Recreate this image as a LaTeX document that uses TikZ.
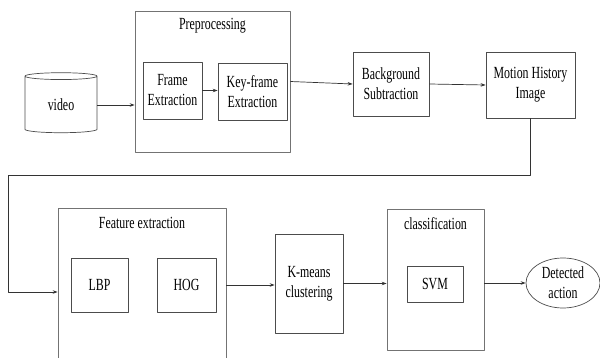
\documentclass[tikz,border=0pt]{standalone}
\usepackage{fontspec}
\setmainfont[FakeStretch=0.7]{Liberation Serif}
\usetikzlibrary{arrows.meta,shapes.geometric}
\tikzset{
  box/.style={draw=black!70, line width=.7pt, align=center, inner sep=1pt},
  grp/.style={draw=black!55, line width=.7pt, inner sep=0pt},
  link/.style={->, draw=black!80, line width=.7pt}
}
\begin{document}
\begin{tikzpicture}[line join=round, >={Stealth[length=5pt,width=3.5pt]}, x=1pt, y=-1pt,
    font=\rmfamily\fontsize{17}{20}\selectfont]
    \clip (0,0) rectangle (600,358);
    % input
    \node[draw=black!70, line width=.7pt, cylinder, shape border rotate=90, aspect=0.24,
        minimum width=72, minimum height=60, inner sep=1pt] (video) at (61,105) {video};
    % preprocessing group
    \node[grp, minimum width=155, minimum height=141] (pre) at (212.5,81.5) {};
    \node (pretitle) at (212.5,26) {Preprocessing};
    \node[box, minimum width=59, minimum height=57] (frame) at (172.5,90.5) {Frame\\Extraction};
    \node[box, minimum width=69, minimum height=57] (keyf) at (252.5,91.5) {Key-frame\\Extraction};
    \node[box, minimum width=76, minimum height=64] (bgs) at (391,84) {Background\\Subtraction};
    \node[box, minimum width=89, minimum height=66] (mhi) at (530.5,85) {Motion History\\Image};
    % feature extraction group
    \node[grp, minimum width=168, minimum height=162] (feat) at (142,289) {};
    \node (feattitle) at (142,223) {Feature extraction};
    \node[box, minimum width=57, minimum height=54] (lbp) at (99.5,285) {LBP};
    \node[box, minimum width=59, minimum height=54] (hog) at (186.5,285) {HOG};
    \node[box, minimum width=68, minimum height=99] (km) at (309,283.5) {K-means\\clustering};
    % classification group
    \node[grp, minimum width=97, minimum height=141] (cls) at (435.5,279.5) {};
    \node (clstitle) at (435.5,224) {classification};
    \node[box, minimum width=56, minimum height=36] (svm) at (435,284) {SVM};
    \node[draw=black!70, line width=.7pt, ellipse, minimum width=74, minimum height=50,
        inner sep=0pt, align=center] (det) at (563,283) {Detected\\action};
    % connectors
    \draw[link] (video.east) -- (pre.west |- video.east);
    \draw[link] (frame.east) -- (keyf.west |- frame.east);
    \draw[link] (pre.east) -- (bgs.west);
    \draw[link] (bgs.east) -- (mhi.west);
    \coordinate (turnL) at (8,175);
    \coordinate (turnB) at (8,292);
    \draw[link] (mhi.south) -- (mhi.south |- turnL) -- (turnL) -- (turnB) -- (feat.west |- turnB);
    \draw[link] (feat.east |- hog.east) -- (km.west |- hog.east);
    \draw[link] (km.east) -- (cls.west |- km.east);
    \draw[link] (cls.east |- det.west) -- (det.west);
\end{tikzpicture}
\end{document}
